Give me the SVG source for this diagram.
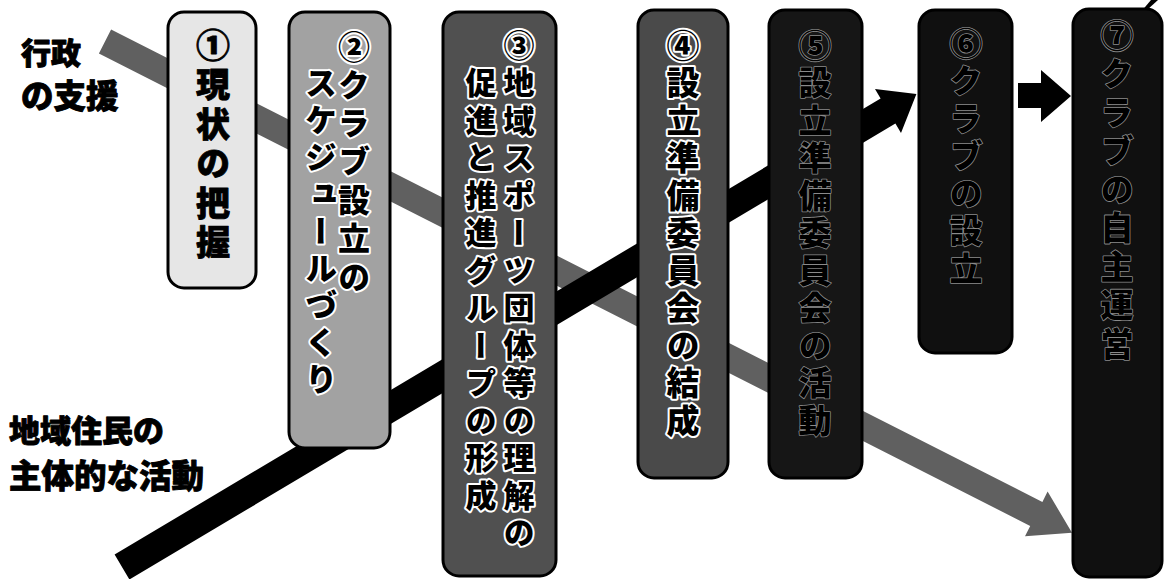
<svg xmlns="http://www.w3.org/2000/svg" width="1164" height="579" viewBox="0 0 1164 579">
<style>
.lbl{font-family:"Noto Sans CJK JP","Noto Sans CJK SC",sans-serif;font-weight:900;fill:#000;stroke:#000;stroke-width:0.9;stroke-linejoin:round}
.box{stroke:#000;stroke-width:3}
.vt{font-family:"Noto Sans CJK JP","Noto Sans CJK SC",sans-serif;font-weight:900;writing-mode:vertical-rl;fill:#000}
.bold{stroke:#000;stroke-width:0.8;stroke-linejoin:round}
.halo{paint-order:stroke;stroke:#fff;stroke-width:4;stroke-linejoin:round}
.dim{paint-order:stroke;stroke:#8a8a8a;stroke-width:1.6;stroke-linejoin:round}
</style>
<g id="connectors">
  <polygon id="gov-support" fill="#606060" points="111.1,29.5 1042.4,501.9 1047.6,491.6 1072,532.7 1025,536.2 1030.2,525.9 98.9,53.5"/>
  <polygon id="resident-activity" fill="#000" points="114.6,554.5 880.6,98.5 875,89.1 916.4,94.1 901,132.9 895.4,123.5 129.4,579.5"/>
  <polygon id="step6-to-7" fill="#000" points="1018,83 1041,83 1041,70 1071,96 1041,122 1041,108 1018,108"/>
  <polygon id="corner-mark" fill="#000" points="1140,13 1151,0 1158,0 1147,10"/>
</g>
<g id="label-gov">
  <text class="lbl" x="21" y="64" font-size="30">行政</text>
  <text class="lbl" x="21" y="108" font-size="32.5">の支援</text>
</g>
<g id="label-residents">
  <text class="lbl" x="9" y="442" font-size="31">地域住民の</text>
  <text class="lbl" x="9" y="488" font-size="32.5">主体的な活動</text>
</g>
<g id="step1">
  <rect class="box" x="168" y="12" width="88" height="276" rx="16" fill="#e6e6e6"/>
  <text class="vt bold" x="213" y="28 67 107 146 186 225" font-size="34">①現状の把握</text>
</g>
<g id="step2">
  <rect class="box" x="289" y="12" width="101" height="436" rx="16" fill="#a2a2a2"/>
  <text class="vt halo" x="354" y="31 69 107 145 184 222 261" font-size="32">②クラブ設立の</text>
  <text class="vt halo" x="321" y="67 104 141 178 215 252 289 326 363" font-size="32">スケジュールづくり</text>
</g>
<g id="step3">
  <rect class="box" x="443" y="12" width="113" height="564" rx="16" fill="#505050"/>
  <text class="vt halo" x="519" y="29.5 67 104.5 142 179.5 217 254.5 292 329.5 367 404.5 442 479.5 517" font-size="31">③地域スポーツ団体等の理解の</text>
  <text class="vt halo" x="481" y="67 104.5 142 179.5 217 254.5 292 329.5 367 404.5 442 479.5" font-size="31">促進と推進グループの形成</text>
</g>
<g id="step4">
  <rect class="box" x="638" y="10" width="90" height="468" rx="16" fill="#4a4a4a"/>
  <text class="vt halo" x="683" y="28.5 66 103.5 141 178.5 216 253.5 291 328.5 366 403.5" font-size="33">④設立準備委員会の結成</text>
</g>
<g id="step5">
  <rect class="box" x="769" y="10" width="93" height="468" rx="16" fill="#161616"/>
  <text class="vt dim" x="815" y="28.5 66 103.5 141 178.5 216 253.5 291 328.5 366 403.5" font-size="33">⑤設立準備委員会の活動</text>
</g>
<g id="step6">
  <rect class="box" x="919" y="10" width="93" height="343" rx="16" fill="#101010"/>
  <text class="vt dim" x="966" y="26.5 64 101.5 139 176.5 214 251.5" font-size="33">⑥クラブの設立</text>
</g>
<g id="step7">
  <rect class="box" x="1073" y="9" width="89" height="568" rx="16" fill="#101010"/>
  <text class="vt dim" x="1117" y="18.5 57 95.5 134 172.5 211 249.5 288 326.5" font-size="33">⑦クラブの自主運営</text>
</g>
</svg>
